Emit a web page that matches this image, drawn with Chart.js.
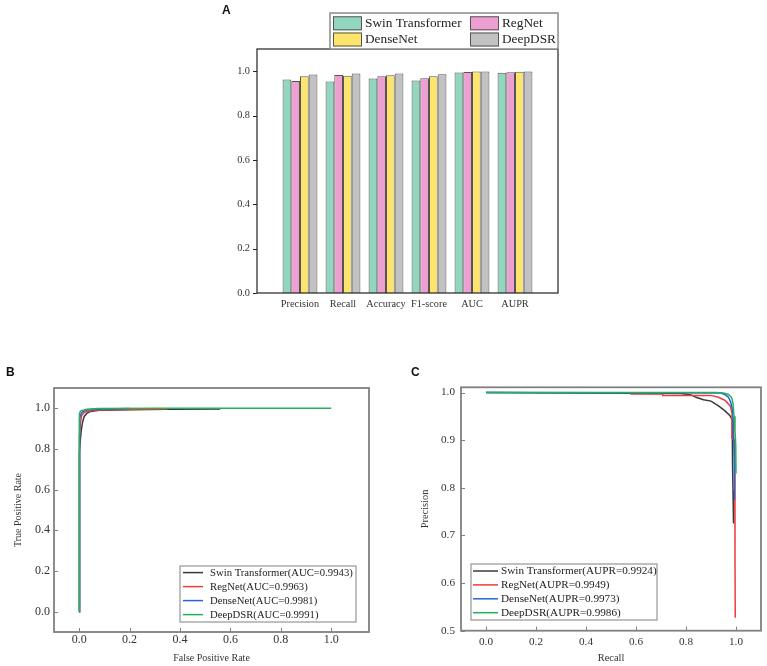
<!DOCTYPE html>
<html lang="en">
<head>
  <meta charset="UTF-8" />
  <title>Swin Transformer / RegNet / DenseNet / DeepDSR</title>
  <script src="https://cdn.jsdelivr.net/npm/chart.js"></script>
  <style>
    body { margin: 0; background: #fff; }
    .wrap { position: relative; width: 767px; height: 666px; overflow: hidden; }
    canvas { position: absolute; }
    .tag { position: absolute; font: bold 12px/12px "Liberation Sans", Arial, sans-serif; color: #111; }
  </style>
</head>
<body>
<div class="wrap">
  <canvas id="chartA" width="767" height="330" style="left:0;top:0"></canvas>
  <canvas id="chartB" width="383" height="311" style="left:0;top:355px"></canvas>
  <canvas id="chartC" width="384" height="311" style="left:383px;top:355px"></canvas>
  <div class="tag" style="left:222px;top:4px">A</div>
  <div class="tag" style="left:6px;top:366px">B</div>
  <div class="tag" style="left:411px;top:366px">C</div>
</div>

<script>
  // --- panel A: metric bars
  var metrics = ['Precision', 'Recall', 'Accuracy', 'F1-score', 'AUC', 'AUPR'];
  var modelNames = ['Swin Transformer', 'RegNet', 'DenseNet', 'DeepDSR'];
  var swinScores = [0.962, 0.953, 0.967, 0.958, 0.9943, 0.9924];
  var regnetScores = [0.956, 0.983, 0.977, 0.968, 0.9963, 0.9949];
  var densenetScores = [0.977, 0.979, 0.982, 0.977, 0.9981, 0.9973];
  var deepdsrScores = [0.985, 0.989, 0.989, 0.986, 0.9991, 0.9986];
  var scoreTicks = [0, 0.2, 0.4, 0.6, 0.8, 1.0];

  // --- panel B: ROC
  var rocLabels = ['Swin Transformer(AUC=0.9943)', 'RegNet(AUC=0.9963)', 'DenseNet(AUC=0.9981)', 'DeepDSR(AUC=0.9991)'];
  var swinFpr = [0, 0, 0.002, 0.004, 0.008, 0.013, 0.02, 0.03, 0.045, 0.08, 0.2, 0.35, 0.56];
  var swinTpr = [0, 0.58, 0.78, 0.84, 0.89, 0.93, 0.96, 0.975, 0.985, 0.99, 0.993, 0.995, 0.997];
  var regnetFpr = [0, 0, 0.002, 0.005, 0.01, 0.018, 0.03, 0.06, 0.15, 0.35];
  var regnetTpr = [0, 0.71, 0.86, 0.93, 0.965, 0.978, 0.985, 0.99, 0.994, 0.997];
  var densenetFpr = [0, 0, 0.003, 0.007, 0.013, 0.025, 0.05, 0.1, 0.2];
  var densenetTpr = [0, 0.9, 0.95, 0.972, 0.983, 0.99, 0.994, 0.997, 0.999];
  var deepdsrFpr = [0, 0, 0.002, 0.005, 0.012, 0.03, 0.075, 0.3, 1.0];
  var deepdsrTpr = [0, 0.95, 0.975, 0.985, 0.99, 0.995, 0.999, 1.0, 1.0];
  var rocTicks = [0, 0.2, 0.4, 0.6, 0.8, 1.0];

  // --- panel C: precision-recall
  var prLabels = ['Swin Transformer(AUPR=0.9924)', 'RegNet(AUPR=0.9949)', 'DenseNet(AUPR=0.9973)', 'DeepDSR(AUPR=0.9986)'];
  var swinRecall = [0, 0.78, 0.82, 0.84, 0.87, 0.9, 0.93, 0.955, 0.975, 0.985, 0.986, 0.988, 0.99];
  var swinPrec = [1.0, 0.998, 0.995, 0.99, 0.985, 0.982, 0.972, 0.962, 0.952, 0.943, 0.85, 0.795, 0.725];
  var regnetRecall = [0.577, 0.706, 0.707, 0.9, 0.93, 0.958, 0.977, 0.984, 0.984, 0.995, 0.996, 0.997];
  var regnetPrec = [0.997, 0.997, 0.994, 0.994, 0.99, 0.983, 0.972, 0.957, 0.904, 0.9, 0.645, 0.527];
  var densenetRecall = [0, 0.94, 0.955, 0.97, 0.98, 0.987, 0.99, 0.993, 0.994];
  var densenetPrec = [1.0, 0.999, 0.996, 0.99, 0.978, 0.96, 0.93, 0.85, 0.775];
  var deepdsrRecall = [0, 0.92, 0.95, 0.97, 0.982, 0.988, 0.992, 0.996, 0.999, 1.0];
  var deepdsrPrec = [1.0, 1.0, 0.999, 0.996, 0.99, 0.978, 0.95, 0.92, 0.89, 0.83];
  var prXTicks = [0, 0.2, 0.4, 0.6, 0.8, 1.0];
  var prYTicks = [0.5, 0.6, 0.7, 0.8, 0.9, 1.0];

  var barColors = ['#93d6bf', '#ee9fd1', '#fde56d', '#c2c2c2'];
  var lineColors = ['#3a3a3a', '#ef3b3b', '#2466d8', '#21b25c'];

  Chart.defaults.font.family = "'Liberation Serif', 'Times New Roman', serif";
  Chart.defaults.color = '#333';
  Chart.defaults.animation = false;

  function pts(xs, ys) {
    return xs.map(function (x, i) { return { x: x, y: ys[i] }; });
  }

  function fixTicks(arr) {
    return function (s) { s.ticks = arr.map(function (v) { return { value: v }; }); };
  }

  function drawLegend(ctx, chart, lg) {
    ctx.fillStyle = '#fff';
    ctx.fillRect(lg.x, lg.y, lg.w, lg.h);
    ctx.strokeStyle = lg.border;
    ctx.lineWidth = lg.borderWidth;
    ctx.strokeRect(lg.x, lg.y, lg.w, lg.h);
    ctx.font = lg.font;
    ctx.textBaseline = 'middle';
    ctx.textAlign = 'left';
    chart.data.datasets.forEach(function (ds, i) {
      var col = i % lg.cols;
      var row = Math.floor(i / lg.cols);
      var x0 = lg.x + lg.pad + col * lg.colW;
      var cy = lg.y + lg.row0 + row * lg.rowH;
      if (lg.swatch) {
        ctx.fillStyle = ds.backgroundColor;
        ctx.fillRect(x0, cy - lg.swH / 2, lg.swW, lg.swH);
        ctx.strokeStyle = '#555';
        ctx.lineWidth = 1;
        ctx.strokeRect(x0 + 0.5, cy - lg.swH / 2 + 0.5, lg.swW - 1, lg.swH - 1);
      } else {
        ctx.strokeStyle = ds.borderColor;
        ctx.lineWidth = 1.5;
        ctx.beginPath();
        ctx.moveTo(x0, cy);
        ctx.lineTo(x0 + lg.lineW, cy);
        ctx.stroke();
      }
      ctx.fillStyle = '#222';
      ctx.fillText(ds.label, x0 + lg.textOff, cy + 0.5);
    });
  }

  // frame, tick marks and legend, Origin style
  function framePlugin(cfg) {
    return {
      id: 'frame',
      afterDraw: function (chart) {
        var ctx = chart.ctx, a = chart.chartArea, sx = chart.scales.x, sy = chart.scales.y;
        ctx.save();
        ctx.strokeStyle = cfg.color;
        ctx.lineWidth = cfg.width;
        ctx.strokeRect(a.left, a.top, a.right - a.left, a.bottom - a.top);
        ctx.lineWidth = 1;
        ctx.beginPath();
        sy.ticks.forEach(function (t) {
          var py = Math.round(sy.getPixelForValue(t.value)) + 0.5;
          ctx.moveTo(a.left, py);
          ctx.lineTo(a.left + cfg.yTick, py);
        });
        if (cfg.xTick) {
          sx.ticks.forEach(function (t) {
            var px = Math.round(sx.getPixelForValue(t.value)) + 0.5;
            ctx.moveTo(px, a.bottom);
            ctx.lineTo(px, a.bottom - cfg.xTick);
          });
        }
        ctx.stroke();
        drawLegend(ctx, chart, cfg.legend);
        ctx.restore();
      }
    };
  }

  // ---------- A ----------
  var allScores = [swinScores, regnetScores, densenetScores, deepdsrScores];
  new Chart(document.getElementById('chartA'), {
    type: 'bar',
    data: {
      datasets: allScores.map(function (sc, k) {
        return {
          label: modelNames[k],
          data: sc.map(function (v, i) { return { x: i + 1, y: v }; }),
          backgroundColor: barColors[k],
          borderColor: '#555',
          borderWidth: 1,
          categoryPercentage: 0.81,
          barPercentage: 1.0
        };
      })
    },
    options: {
      responsive: false,
      layout: { padding: { left: 217, right: 209, top: 49, bottom: 12 } },
      plugins: { legend: { display: false }, tooltip: { enabled: false } },
      scales: {
        x: {
          type: 'linear', min: 0, max: 7, offset: false,
          grid: { display: false, drawTicks: false, offset: false },
          border: { display: false },
          afterBuildTicks: fixTicks(metrics.map(function (m, i) { return i + 1; })),
          afterFit: function (s) { s.height = 25; },
          ticks: {
            padding: 5,
            font: { size: 10.3 },
            color: '#333',
            callback: function (v) { return metrics[v - 1] || ''; }
          }
        },
        y: {
          min: 0, max: 1.1,
          grid: { display: false, drawTicks: false },
          border: { display: false },
          afterBuildTicks: fixTicks(scoreTicks),
          afterFit: function (s) { s.width = 40; },
          ticks: {
            padding: 7,
            font: { size: 10.3 },
            color: '#333',
            callback: function (v) { return v.toFixed(1); }
          }
        }
      }
    },
    plugins: [framePlugin({
      color: '#222', width: 1.2, yTick: -4, xTick: 0,
      legend: {
        x: 330, y: 13, w: 228, h: 36, border: '#8a8a8a', borderWidth: 1.5,
        font: '13.3px "Liberation Serif", serif',
        cols: 2, colW: 137, pad: 3, row0: 10.3, rowH: 16.2,
        swatch: true, swW: 29, swH: 14, textOff: 32
      }
    })]
  });

  // ---------- B ----------
  var rocSets = [[swinFpr, swinTpr], [regnetFpr, regnetTpr], [densenetFpr, densenetTpr], [deepdsrFpr, deepdsrTpr]];
  new Chart(document.getElementById('chartB'), {
    type: 'line',
    data: {
      datasets: rocSets.map(function (s, k) {
        return {
          label: rocLabels[k],
          data: pts(s[0], s[1]),
          borderColor: lineColors[k],
          borderWidth: 1.5,
          pointRadius: 0,
          fill: false,
          order: 4 - k
        };
      })
    },
    options: {
      responsive: false,
      layout: { padding: { left: 12, right: 14, top: 33, bottom: 2 } },
      plugins: { legend: { display: false }, tooltip: { enabled: false } },
      scales: {
        x: {
          type: 'linear', min: -0.1, max: 1.15,
          grid: { display: false, drawTicks: false },
          border: { display: false },
          afterBuildTicks: fixTicks(rocTicks),
          afterFit: function (s) { s.height = 32; },
          title: { display: true, text: 'False Positive Rate', font: { size: 10 }, padding: 0, color: '#333' },
          ticks: { padding: 1, font: { size: 12 }, color: '#333', callback: function (v) { return v.toFixed(1); } }
        },
        y: {
          min: -0.1, max: 1.1,
          grid: { display: false, drawTicks: false },
          border: { display: false },
          afterBuildTicks: fixTicks(rocTicks),
          afterFit: function (s) { s.width = 42; },
          title: { display: true, text: 'True Positive Rate', font: { size: 10 }, padding: 0, color: '#333' },
          ticks: { padding: 4, font: { size: 12 }, color: '#333', callback: function (v) { return v.toFixed(1); } }
        }
      }
    },
    plugins: [framePlugin({
      color: '#808080', width: 1.8, yTick: 4, xTick: 4,
      legend: {
        x: 180, y: 211, w: 176, h: 56, border: '#808080', borderWidth: 1,
        font: '10.7px "Liberation Serif", serif',
        cols: 1, colW: 0, pad: 3, row0: 6.6, rowH: 14,
        swatch: false, lineW: 20, textOff: 27
      }
    })]
  });

  // ---------- C ----------
  var prSets = [[swinRecall, swinPrec], [regnetRecall, regnetPrec], [densenetRecall, densenetPrec], [deepdsrRecall, deepdsrPrec]];
  new Chart(document.getElementById('chartC'), {
    type: 'line',
    data: {
      datasets: prSets.map(function (s, k) {
        return {
          label: prLabels[k],
          data: pts(s[0], s[1]),
          borderColor: lineColors[k],
          borderWidth: 1.5,
          pointRadius: 0,
          fill: false,
          order: 4 - k
        };
      })
    },
    options: {
      responsive: false,
      layout: { padding: { left: 36.5, right: 6, top: 32.3, bottom: 1.8 } },
      plugins: { legend: { display: false }, tooltip: { enabled: false } },
      scales: {
        x: {
          type: 'linear', min: -0.1, max: 1.1,
          grid: { display: false, drawTicks: false },
          border: { display: false },
          afterBuildTicks: fixTicks(prXTicks),
          afterFit: function (s) { s.height = 33.5; },
          title: { display: true, text: 'Recall', font: { size: 10.4 }, padding: 0, color: '#333' },
          ticks: { padding: 4.5, font: { size: 11.2 }, color: '#333', callback: function (v) { return v.toFixed(1); } }
        },
        y: {
          min: 0.5, max: 1.011,
          grid: { display: false, drawTicks: false },
          border: { display: false },
          afterBuildTicks: fixTicks(prYTicks),
          afterFit: function (s) { s.width = 41.5; },
          title: { display: true, text: 'Precision', font: { size: 10.4 }, padding: 0, color: '#333' },
          ticks: { padding: 6, font: { size: 11.2 }, color: '#333', callback: function (v) { return v.toFixed(1); } }
        }
      }
    },
    plugins: [framePlugin({
      color: '#808080', width: 1.8, yTick: 4, xTick: 4,
      legend: {
        x: 88, y: 209, w: 186, h: 56, border: '#808080', borderWidth: 1,
        font: '11.2px "Liberation Serif", serif',
        cols: 1, colW: 0, pad: 2, row0: 7, rowH: 13.9,
        swatch: false, lineW: 25, textOff: 28
      }
    })]
  });
</script>
</body>
</html>
